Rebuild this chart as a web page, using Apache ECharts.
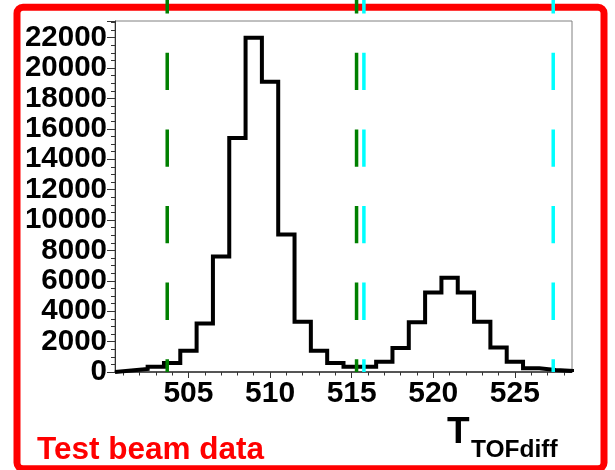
<!DOCTYPE html>
<html><head><meta charset="utf-8">
<script src="https://cdn.jsdelivr.net/npm/echarts@6/dist/echarts.min.js"></script>
<style>html,body{margin:0;padding:0;background:#fff}#c{width:615px;height:470px}</style>
</head><body><div id="c"></div>
<script>
// ---- data ----
const binCenters = [501,502,503,504,505,506,507,508,509,510,511,512,513,514,515,516,517,518,519,520,521,522,523,524,525,526,527,528];
const counts     = [100,200,350,600,1400,3200,7600,15400,22000,19100,9050,3300,1400,600,350,350,680,1580,3270,5240,6200,5240,3310,1620,680,240,130,70];
const xTickLabels = [505,510,515,520,525];
const xMinorTicks = [501,502,503,504,506,507,508,509,511,512,513,514,516,517,518,519,521,522,523,524,526,527,528];
const yMax = 23100;
const yInterval = 2000;
const greenCuts = [503.7, 515.3];
const cyanCuts = [515.75, 527.35];
const cutTop = 26050;

// ---- build ----
const binWidth = 1;
const xMin = binCenters[0] - binWidth / 2;
const xMax = binCenters[binCenters.length - 1] + binWidth / 2;
const histData = [[xMin, 0]];
binCenters.forEach((c, i) => histData.push([c - binWidth / 2, counts[i]]));
histData.push([xMax, counts[counts.length - 1]]);
histData.push([xMax, 0]);

const FONT = '"Liberation Sans", Arial, sans-serif';
function cutSeries(x, color) {
  return {
    type: 'line', data: [[x, cutTop], [x, 0]], clip: false, symbol: 'none', silent: true,
    z: 5, animation: false,
    lineStyle: { color: color, width: 3.5, type: [37.3, 39.3], cap: 'butt' }
  };
}

const chart = echarts.init(document.getElementById('c'), null, { renderer: 'canvas' });
chart.setOption({
  animation: false,
  backgroundColor: '#ffffff',
  grid: { left: 115, top: 21, right: 43, bottom: 98, show: true, borderColor: '#808080', borderWidth: 1, backgroundColor: 'transparent' },
  xAxis: [{
    type: 'value', min: xMin, max: xMax, position: 'bottom',
    axisLine: { show: true, onZero: false, lineStyle: { color: '#333', width: 1.5 } },
    axisTick: { show: true, customValues: xTickLabels, length: 6, lineStyle: { color: '#333', width: 1 } },
    axisLabel: { customValues: xTickLabels, fontSize: 30, fontWeight: 'bold', fontFamily: FONT, color: '#000', margin: 7 },
    splitLine: { show: false }
  }, {
    type: 'value', min: xMin, max: xMax, position: 'bottom', gridIndex: 0,
    axisLine: { show: false },
    axisTick: { show: true, customValues: xMinorTicks, length: 3.5, lineStyle: { color: '#333', width: 1 } },
    axisLabel: { show: false },
    splitLine: { show: false }
  }],
  yAxis: {
    type: 'value', min: 0, max: yMax, interval: yInterval,
    axisLine: { show: true, lineStyle: { color: '#333', width: 1 } },
    axisTick: { show: true, length: 8, lineStyle: { color: '#333', width: 1 } },
    minorTick: { show: true, splitNumber: 4, length: 4, lineStyle: { color: '#333', width: 1 } },
    axisLabel: { fontSize: 29.5, fontWeight: 'bold', fontFamily: FONT, color: '#000', margin: 8,
      showMaxLabel: false,
      formatter: v => String(v) },
    splitLine: { show: false }
  },
  series: [
    {
      type: 'line', data: histData, step: 'end', symbol: 'none', silent: true, z: 3,
      lineStyle: { color: '#000', width: 4, join: 'miter' }
    },
    cutSeries(greenCuts[0], '#008000'),
    cutSeries(greenCuts[1], '#008000'),
    cutSeries(cyanCuts[0], '#00ffff'),
    cutSeries(cyanCuts[1], '#00ffff')
  ],
  graphic: [
    { type: 'rect', z: 0, shape: { x: 17, y: 7.3, width: 587, height: 461.5, r: 6 },
      style: { fill: 'none', stroke: '#ff0000', lineWidth: 7 } },
    { type: 'text', z: 1, x: 37, y: 450,
      style: { text: 'Test beam data', fill: '#ff0000', font: 'bold 31.5px ' + FONT, verticalAlign: 'middle', align: 'left' } },
    { type: 'text', z: 1, x: 447, y: 433,
      style: { text: 'T', fill: '#000', font: 'bold 37px ' + FONT, verticalAlign: 'middle', align: 'left' } },
    { type: 'text', z: 1, x: 471, y: 450,
      style: { text: 'TOFdiff', fill: '#000', font: 'bold 24.5px ' + FONT, verticalAlign: 'middle', align: 'left' } }
  ]
});
</script>
</body></html>
